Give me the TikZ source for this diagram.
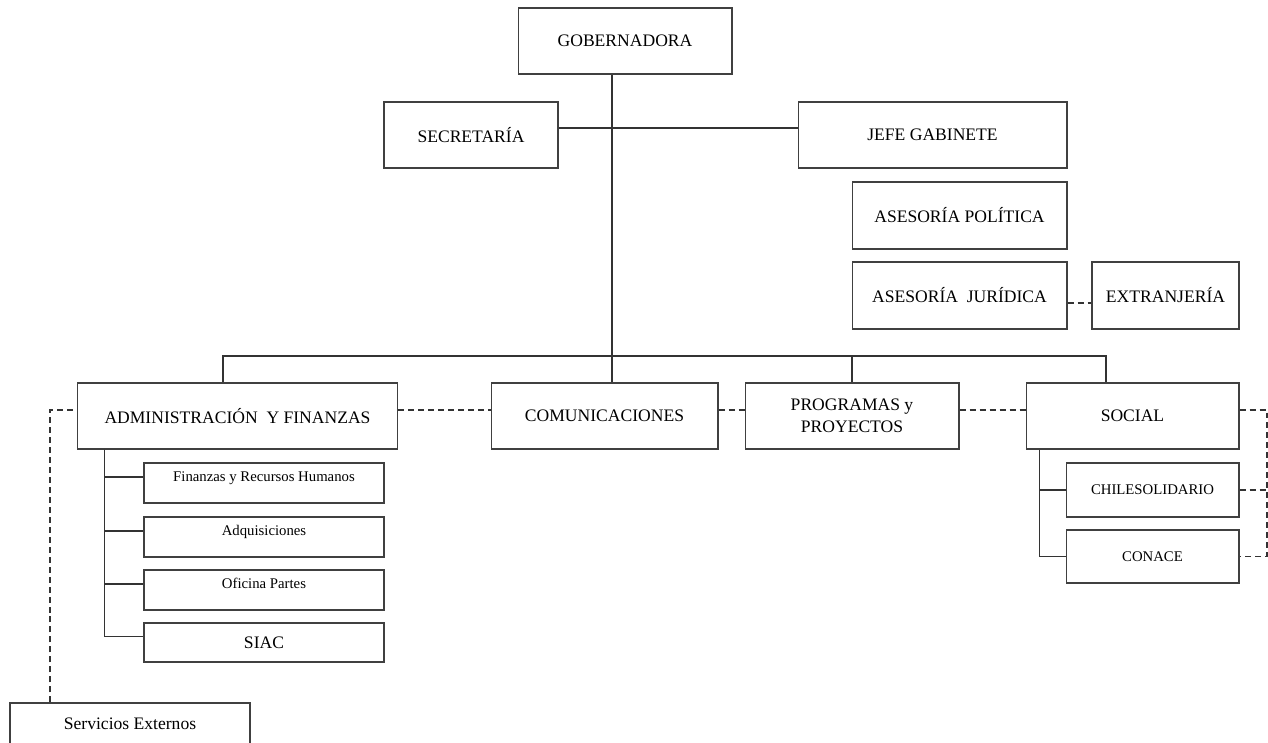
\documentclass[tikz,border=0pt]{standalone}
\usepackage{fontspec}
\setmainfont{Liberation Serif}
\newcommand{\bigf}{\fontsize{10}{12.5}\selectfont}
\newcommand{\smallf}{\fontsize{8.4}{10}\selectfont}
\tikzset{
	unit/.style={draw=black!75, line width=0.6pt, inner sep=0pt, align=center, font=\bigf},
	subunit/.style={unit, font=\smallf},
	raised/.style={text height=0.2cm, text depth=0.26cm},
	tie/.style={line width=0.6pt, black!80},
	link/.style={line width=0.6pt, black!80, dash pattern=on 0.12cm off 0.08cm}
}

\begin{document}
\begin{tikzpicture}[x=0.02cm, y=-0.02cm]
	\useasboundingbox (0,0) rectangle (1268,743);

	\node[unit, minimum width=4.28cm, minimum height=1.32cm] (gob) at (625,41) {GOBERNADORA};
	\node[unit, minimum width=3.48cm, minimum height=1.32cm] (sec) at (471,135) {SECRETARÍA};
	\node[unit, minimum width=5.38cm, minimum height=1.32cm] (jefe) at (932.5,135) {JEFE GABINETE};
	\node[unit, minimum width=4.3cm, minimum height=1.34cm] (pol) at (959.5,215.5) {ASESORÍA POLÍTICA};
	\node[unit, minimum width=4.3cm, minimum height=1.34cm] (jur) at (959.5,295.5) {ASESORÍA\ \ JURÍDICA};
	\node[unit, minimum width=2.94cm, minimum height=1.34cm] (ext) at (1165.5,295.5) {EXTRANJERÍA};

	\node[unit, minimum width=6.42cm, minimum height=1.32cm] (adm) at (237.5,416) {ADMINISTRACIÓN\ \ Y FINANZAS};
	\node[unit, minimum width=4.54cm, minimum height=1.32cm] (com) at (604.5,416) {COMUNICACIONES};
	\node[unit, minimum width=4.28cm, minimum height=1.32cm] (prog) at (852,416) {PROGRAMAS y\\PROYECTOS};
	\node[unit, minimum width=4.26cm, minimum height=1.32cm] (soc) at (1132.5,416) {SOCIAL};

	\node[subunit, raised, minimum width=4.8cm, minimum height=0.8cm] (fin) at (264,483) {Finanzas y Recursos Humanos};
	\node[subunit, raised, minimum width=4.8cm, minimum height=0.8cm] (adq) at (264,537) {Adquisiciones};
	\node[subunit, raised, minimum width=4.8cm, minimum height=0.8cm] (ofi) at (264,590) {Oficina Partes};
	\node[unit, minimum width=4.8cm, minimum height=0.78cm] (siac) at (264,642.5) {SIAC};

	\node[subunit, minimum width=3.46cm, minimum height=1.08cm] (chile) at (1152.5,490) {CHILESOLIDARIO};
	\node[subunit, minimum width=3.46cm, minimum height=1.06cm] (conace) at (1152.5,556.5) {CONACE};

	\node[unit, minimum width=4.8cm, minimum height=0.84cm] (serv) at (130,724) {Servicios Externos};

	\coordinate (mid) at (612,128);
	\coordinate (bus) at (612,356);
	\coordinate (dl) at (50,410);
	\coordinate (dr) at (1267,410);

	\draw[tie] (gob.south -| bus) -- (bus |- com.north);
	\draw[tie] (sec.east |- mid) -- (jefe.west |- mid);
	\draw[tie] ([xshift=-0.29cm]adm.north) |- (bus) -| ([xshift=-0.53cm]soc.north);
	\draw[tie] (prog.north) -- (prog.north |- bus);

	\foreach \n in {fin,adq,ofi,siac}
		\draw[tie] ([xshift=-2.67cm]adm.south) |- ([yshift=0.12cm]\n.west);
	\foreach \n in {chile,conace}
		\draw[tie] ([xshift=-1.87cm]soc.south) |- (\n.west);

	\draw[link] ([yshift=-0.15cm]jur.east) -- ([yshift=-0.15cm]ext.west);
	\draw[link] (dl |- serv.north) -- (dl) -- (adm.west |- dl);
	\draw[link] (adm.east |- dl) -- (com.west |- dl);
	\draw[link] (com.east |- dl) -- (prog.west |- dl);
	\draw[link] (prog.east |- dl) -- (soc.west |- dl);
	\draw[link] (soc.east |- dl) -- (dr) |- (conace.east);
	\draw[link] (chile.east) -- (chile.east -| dr);
\end{tikzpicture}
\end{document}
